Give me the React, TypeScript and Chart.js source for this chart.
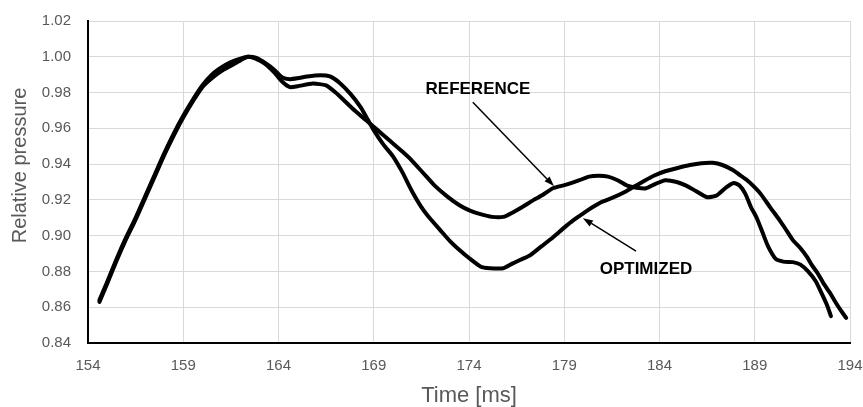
import { useEffect, useRef } from 'react';
import { Chart, registerables } from 'chart.js';

Chart.register(...registerables);

// ---- Data ----
const refTimes = [
  154.6, 155.0, 155.5, 156.0, 156.5, 157.0, 157.5, 158.0, 158.5, 159.0, 159.5, 160.0, 160.5, 161.0,
  161.5, 162.0, 162.4, 162.8, 163.3, 163.8, 164.2, 164.6, 165.0, 165.8, 166.5, 167.0, 167.5, 168.0,
  168.6, 169.2, 169.85, 170.5, 171.0, 171.6, 172.2, 172.85, 173.5, 174.05, 174.6, 175.2, 175.8, 176.3,
  176.8, 177.4, 177.9, 178.4, 179.1, 179.8, 180.3, 180.8, 181.3, 181.8, 182.3, 182.8, 183.3, 183.8,
  184.3, 184.9, 185.4, 185.9, 186.5, 187.0, 187.5, 187.9, 188.2, 188.5, 188.8, 189.1, 189.4, 189.7,
  190.1, 190.5, 191.0, 191.4, 191.8, 192.2, 192.5, 192.8, 193.0,
];
const refValues = [
  0.863, 0.873, 0.886, 0.898, 0.909, 0.921, 0.933, 0.945, 0.956, 0.966, 0.975, 0.983, 0.988, 0.992,
  0.995, 0.998, 1.0, 0.999, 0.996, 0.991, 0.986, 0.983, 0.9835, 0.985, 0.984, 0.98, 0.975, 0.97,
  0.9645, 0.959, 0.953, 0.947, 0.942, 0.935, 0.928, 0.922, 0.917, 0.914, 0.912, 0.9105, 0.9105, 0.913,
  0.916, 0.92, 0.923, 0.9265, 0.9285, 0.931, 0.933, 0.9335, 0.933, 0.931, 0.928, 0.9268, 0.9265, 0.929,
  0.931, 0.93, 0.928, 0.925, 0.9215, 0.9225, 0.927, 0.9295, 0.928, 0.9235, 0.916, 0.91, 0.902, 0.894,
  0.887, 0.8855, 0.8852, 0.8838, 0.88, 0.8745, 0.868, 0.861, 0.855,
];
const optTimes = [
  154.6, 155.0, 155.5, 156.0, 156.5, 157.0, 157.5, 158.0, 158.5, 159.0, 159.5, 160.0, 160.5, 161.0,
  161.5, 162.0, 162.4, 162.8, 163.3, 163.8, 164.2, 164.6, 165.0, 165.5, 166.2, 166.7, 167.2, 167.8,
  168.3, 168.6, 169.0, 169.5, 170.0, 170.5, 171.0, 171.5, 172.0, 172.5, 173.0, 173.5, 174.0, 174.6,
  175.1, 175.8, 176.3, 176.8, 177.2, 177.8, 178.4, 179.0, 179.5, 180.0, 180.5, 181.0, 181.6, 182.1,
  182.6, 183.1, 183.7, 184.3, 185.0, 185.6, 186.2, 186.8, 187.3, 187.85, 188.2, 188.6, 189.0, 189.3,
  189.8, 190.3, 190.6, 191.0, 191.4, 191.75, 192.0, 192.3, 192.6, 192.95, 193.2, 193.5, 193.8,
];
const optValues = [
  0.864, 0.874, 0.887, 0.899, 0.91, 0.922, 0.934, 0.946, 0.957, 0.967, 0.976, 0.984, 0.99, 0.994,
  0.997, 0.999, 1.0, 0.9995, 0.9965, 0.9925, 0.9885, 0.9875, 0.988, 0.989, 0.9897, 0.989, 0.9855, 0.979,
  0.972, 0.9665, 0.959, 0.951, 0.9445, 0.9355, 0.925, 0.9160, 0.909, 0.903, 0.897, 0.892, 0.8875, 0.8828,
  0.8818, 0.8818, 0.8845, 0.887, 0.889, 0.894, 0.899, 0.9045, 0.9088, 0.9125, 0.916, 0.919, 0.9215, 0.924,
  0.927, 0.93, 0.9335, 0.936, 0.938, 0.9395, 0.9405, 0.9407, 0.9395, 0.9367, 0.934, 0.931, 0.927, 0.9235,
  0.916, 0.9087, 0.904, 0.8975, 0.893, 0.888, 0.8835, 0.879, 0.8735, 0.868, 0.8635, 0.8585, 0.854,
];

const xMin = 154;
const xMax = 194;
const xStep = 5;
const yMin = 0.84;
const yMax = 1.02;
const yStep = 0.02;

const xTitle = 'Time [ms]';
const yTitle = 'Relative pressure';

// Callout labels with arrows, in data coordinates
const calloutLabels = ['REFERENCE', 'OPTIMIZED'];
const calloutTextPos = [
  [174.47, 0.9819],
  [183.29, 0.8811],
];
const calloutArrowFrom = [
  [174.2, 0.9746],
  [182.77, 0.8914],
];
const calloutArrowTo = [
  [178.46, 0.9277],
  [179.98, 0.9098],
];

const FONT = '"Liberation Sans", Arial, sans-serif';

const toPoints = (xs: number[], ys: number[]) => xs.map((x, i) => ({ x, y: ys[i] }));

const calloutPlugin = {
  id: 'callouts',
  afterDatasetsDraw(chart: any) {
    const { ctx, scales } = chart;
    const xs = scales.x;
    const ys = scales.y;
    ctx.save();
    ctx.fillStyle = '#000';
    ctx.strokeStyle = '#000';
    ctx.font = `bold 17px ${FONT}`;
    ctx.textAlign = 'center';
    ctx.textBaseline = 'middle';
    calloutLabels.forEach((label, i) => {
      const tx = xs.getPixelForValue(calloutTextPos[i][0]);
      const ty = ys.getPixelForValue(calloutTextPos[i][1]);
      ctx.fillText(label, tx, ty);
      const x1 = xs.getPixelForValue(calloutArrowFrom[i][0]);
      const y1 = ys.getPixelForValue(calloutArrowFrom[i][1]);
      const x2 = xs.getPixelForValue(calloutArrowTo[i][0]);
      const y2 = ys.getPixelForValue(calloutArrowTo[i][1]);
      const ang = Math.atan2(y2 - y1, x2 - x1);
      const headLen = 10;
      const headW = 3.5;
      const bx = x2 - headLen * Math.cos(ang);
      const by = y2 - headLen * Math.sin(ang);
      ctx.lineWidth = 1.5;
      ctx.beginPath();
      ctx.moveTo(x1, y1);
      ctx.lineTo(bx, by);
      ctx.stroke();
      ctx.beginPath();
      ctx.moveTo(x2, y2);
      ctx.lineTo(bx + headW * Math.sin(ang), by - headW * Math.cos(ang));
      ctx.lineTo(bx - headW * Math.sin(ang), by + headW * Math.cos(ang));
      ctx.closePath();
      ctx.fill();
    });
    ctx.restore();
  },
};

const yTitlePlugin = {
  id: 'yTitle',
  afterDraw(chart: any) {
    const { ctx } = chart;
    ctx.save();
    ctx.translate(20, 165.5);
    ctx.rotate(-Math.PI / 2);
    ctx.font = `20px ${FONT}`;
    ctx.fillStyle = '#595959';
    ctx.textAlign = 'center';
    ctx.textBaseline = 'middle';
    ctx.fillText(yTitle, 0, 0);
    ctx.restore();
  },
};

export default function App() {
  const canvasRef = useRef<HTMLCanvasElement | null>(null);

  useEffect(() => {
    if (!canvasRef.current) return;
    const lineStyle = {
      borderColor: '#000000',
      borderWidth: 4,
      pointRadius: 0,
      pointHoverRadius: 0,
      tension: 0.2,
      fill: false,
      borderJoinStyle: 'round' as const,
      borderCapStyle: 'round' as const,
    };
    const chart = new Chart(canvasRef.current, {
      type: 'line',
      data: {
        datasets: [
          { label: 'REFERENCE', data: toPoints(refTimes, refValues), ...lineStyle },
          { label: 'OPTIMIZED', data: toPoints(optTimes, optValues), ...lineStyle },
        ],
      },
      options: {
        responsive: false,
        animation: false,
        layout: { padding: { top: 21, right: 13, left: 0, bottom: 0 } },
        plugins: {
          legend: { display: false },
          tooltip: { enabled: false },
        },
        scales: {
          x: {
            type: 'linear',
            min: xMin,
            max: xMax,
            ticks: {
              stepSize: xStep,
              padding: 14,
              color: '#595959',
              font: { family: FONT, size: 15 },
              maxRotation: 0,
            },
            grid: { color: '#d9d9d9', lineWidth: 1, drawTicks: false },
            border: { display: true, color: '#000000', width: 2 },
            title: {
              display: true,
              text: xTitle,
              color: '#595959',
              font: { family: FONT, size: 22, lineHeight: 1 },
              padding: 0,
            },
            afterFit: (scale: any) => {
              scale.height = 64;
              scale.paddingLeft = 0;
              scale.paddingRight = 0;
            },
          },
          y: {
            type: 'linear',
            min: yMin,
            max: yMax,
            ticks: {
              stepSize: yStep,
              padding: 17,
              color: '#595959',
              font: { family: FONT, size: 15 },
              callback: (v: any) => Number(v).toFixed(2),
            },
            grid: { color: '#d9d9d9', lineWidth: 1, drawTicks: false },
            border: { display: true, color: '#000000', width: 2 },
            afterFit: (scale: any) => {
              scale.width = 88;
              scale.paddingTop = 0;
              scale.paddingBottom = 0;
            },
          },
        },
      },
      plugins: [calloutPlugin, yTitlePlugin],
    });
    return () => chart.destroy();
  }, []);

  return (
    <div style={{ position: 'fixed', left: 0, top: 0, width: 863, height: 407, background: '#fff' }}>
      <canvas ref={canvasRef} width={863} height={407} style={{ display: 'block' }} />
    </div>
  );
}
